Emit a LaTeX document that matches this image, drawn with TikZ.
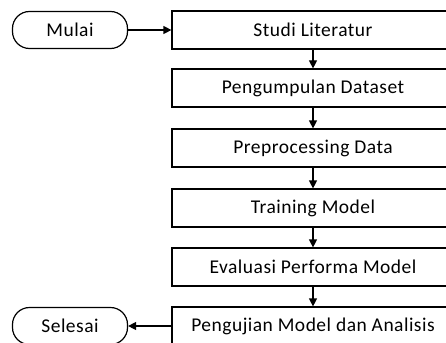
\documentclass[tikz,border=0pt]{standalone}
\usepackage{fontspec}
\setmainfont{Carlito}[LetterSpace=2.5]
\usetikzlibrary{arrows.meta,positioning}
\begin{document}
\begin{tikzpicture}[x=1pt,y=-1pt,
  line width=1.2pt,
  stepbox/.style={draw, minimum width=282pt, minimum height=38pt, inner sep=0pt, font=\fontsize{19.5}{22}\selectfont},
  term/.style={draw, rounded corners=17pt, minimum width=115pt, minimum height=37pt, inner sep=0pt, font=\fontsize{19.5}{22}\selectfont},
  flow/.style={-{Triangle[length=8pt,width=8pt]}}]
  \useasboundingbox (0,0) rectangle (446,342);
  \clip (0,0) rectangle (446,342);
  \node[term] (start) at (70,30) {Mulai};
  \node[term] (stop) at (70,326) {Selesai};
  \node[stepbox] (s1) at (313,30) {Studi Literatur};
  \node[stepbox] (s2) at (313,88) {Pengumpulan Dataset};
  \node[stepbox] (s3) at (313,148) {Preprocessing Data};
  \node[stepbox] (s4) at (313,208) {Training Model};
  \node[stepbox] (s5) at (313,267) {Evaluasi Performa Model};
  \node[stepbox] (s6) at (313,326) {Pengujian Model dan Analisis};
  \draw[flow] (start) -- (s1);
  \draw[flow] (s1) -- (s2);
  \draw[flow] (s2) -- (s3);
  \draw[flow] (s3) -- (s4);
  \draw[flow] (s4) -- (s5);
  \draw[flow] (s5) -- (s6);
  \draw[flow] (s6) -- (stop);
\end{tikzpicture}
\end{document}
